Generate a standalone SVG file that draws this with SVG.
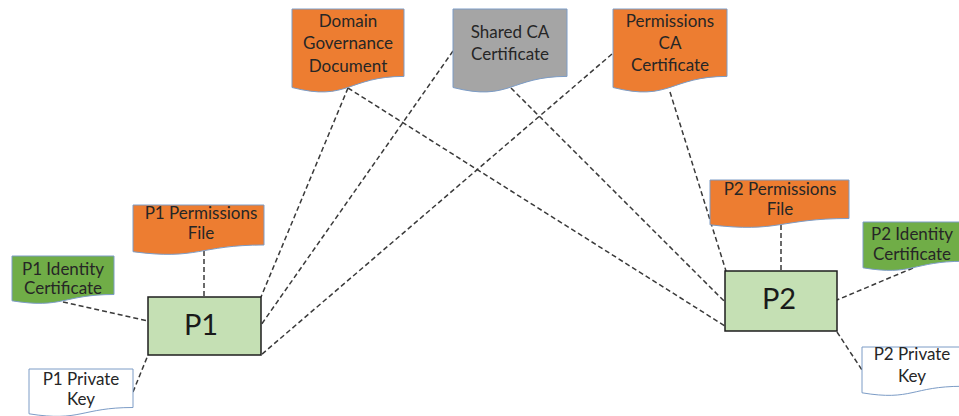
<svg xmlns="http://www.w3.org/2000/svg" width="959" height="416" viewBox="0 0 959 416">
  <style>
    .doc { stroke: #7c9cc6; stroke-width: 1; }
    .orange { fill: #ed7d31; }
    .grey { fill: #a5a5a5; }
    .green { fill: #70ad47; }
    .white { fill: #ffffff; }
    .peer { fill: #c5e0b4; stroke: #1e1e1e; stroke-width: 1.5; }
    .lbl { font-family: Lato, "Open Sans", "Liberation Sans", sans-serif; font-size: 17px; fill: #262626; text-anchor: middle; }
    .big { font-family: Lato, "Open Sans", "Liberation Sans", sans-serif; font-size: 29px; fill: #1a1a1a; text-anchor: middle; }
    .link { fill: none; stroke: #3a3a3a; stroke-width: 1.5; stroke-dasharray: 5 3; }
  </style>

  <!-- dashed associations between documents and participants -->
  <g id="connectors">
    <line class="link" x1="204" y1="251" x2="204" y2="297"/>
    <line class="link" x1="63" y1="302" x2="148" y2="321"/>
    <line class="link" x1="133" y1="392" x2="148" y2="355"/>
    <line class="link" x1="348" y1="88" x2="261" y2="297"/>
    <line class="link" x1="453" y1="51" x2="261" y2="325"/>
    <line class="link" x1="612" y1="54" x2="261" y2="355"/>
    <line class="link" x1="348" y1="88" x2="725" y2="326"/>
    <line class="link" x1="511" y1="88" x2="725" y2="302"/>
    <line class="link" x1="670" y1="92" x2="726" y2="271"/>
    <line class="link" x1="781" y1="225" x2="781" y2="271"/>
    <line class="link" x1="913" y1="268" x2="837" y2="300"/>
    <line class="link" x1="837" y1="332" x2="862" y2="370"/>
  </g>

  <g id="domain-governance">
    <path class="doc orange" d="M292,9 H404 V76.4 C348,76.4 348,102 292,87.5 Z"/>
    <text class="lbl" x="348" y="27">Domain</text>
    <text class="lbl" x="348" y="49">Governance</text>
    <text class="lbl" x="348" y="71.5">Document</text>
  </g>

  <g id="shared-ca">
    <path class="doc grey" d="M453,9 H567 V76.4 C510,76.4 510,102 453,87.5 Z"/>
    <text class="lbl" x="510" y="38">Shared CA</text>
    <text class="lbl" x="510" y="59.5">Certificate</text>
  </g>

  <g id="permissions-ca">
    <path class="doc orange" d="M613,9 H727 V76.4 C670,76.4 670,102 613,87.5 Z"/>
    <text class="lbl" x="670" y="27">Permissions</text>
    <text class="lbl" x="670" y="49">CA</text>
    <text class="lbl" x="670" y="71">Certificate</text>
  </g>

  <g id="p1-permissions">
    <path class="doc orange" d="M133,205 H264 V245 C198.5,245 198.5,260.4 133,251.7 Z"/>
    <text class="lbl" x="201" y="219">P1 Permissions</text>
    <text class="lbl" x="201" y="239">File</text>
  </g>

  <g id="p1-identity">
    <path class="doc green" d="M12,256 H114 V294.5 C63,294.5 63,309.1 12,300.8 Z"/>
    <text class="lbl" x="63" y="275">P1 Identity</text>
    <text class="lbl" x="63" y="294">Certificate</text>
  </g>

  <g id="p1-private-key">
    <path class="doc white" d="M29,369 H133 V407.5 C81,407.5 81,422.1 29,413.8 Z"/>
    <text class="lbl" x="81" y="385">P1 Private</text>
    <text class="lbl" x="81" y="405">Key</text>
  </g>

  <g id="p1">
    <rect class="peer" x="148" y="297" width="113" height="58"/>
    <text class="big" x="201" y="335">P1</text>
  </g>

  <g id="p2-permissions">
    <path class="doc orange" d="M710,180 H849 V218.5 C779.5,218.5 779.5,233.1 710,224.8 Z"/>
    <text class="lbl" x="780" y="194.5">P2 Permissions</text>
    <text class="lbl" x="780" y="215">File</text>
  </g>

  <g id="p2-identity">
    <path class="doc green" d="M863,222 H963 V261.3 C913,261.3 913,276.2 863,267.8 Z"/>
    <text class="lbl" x="912" y="240">P2 Identity</text>
    <text class="lbl" x="912" y="260">Certificate</text>
  </g>

  <g id="p2-private-key">
    <path class="doc white" d="M862,347 H962 V386.3 C912,386.3 912,401.2 862,392.8 Z"/>
    <text class="lbl" x="912" y="360">P2 Private</text>
    <text class="lbl" x="912" y="382">Key</text>
  </g>

  <g id="p2">
    <rect class="peer" x="725" y="271" width="112" height="60"/>
    <text class="big" x="779" y="309">P2</text>
  </g>
</svg>
